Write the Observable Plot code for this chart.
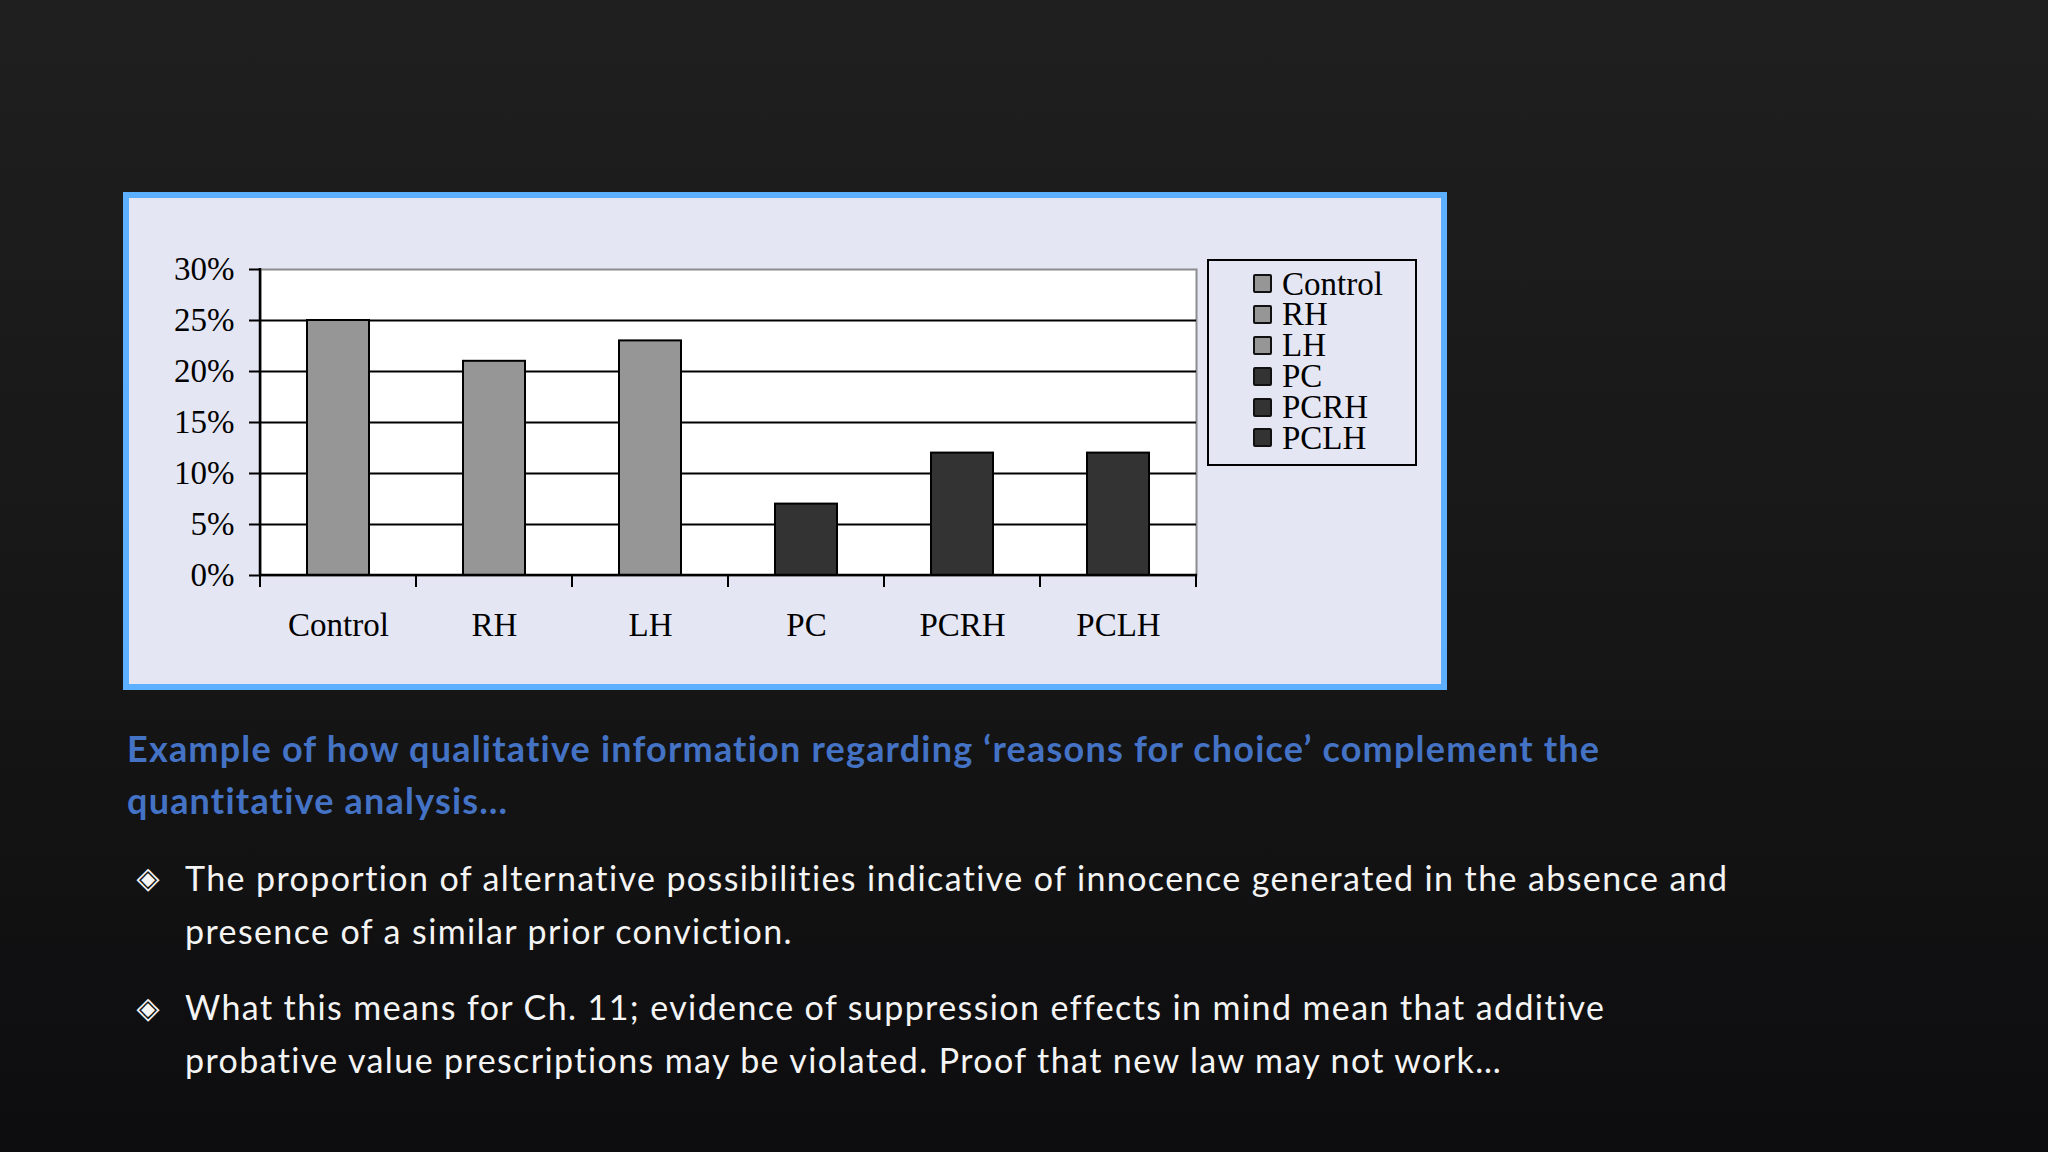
<!DOCTYPE html>
<html>
<head>
<meta charset="utf-8">
<script src="https://cdn.jsdelivr.net/npm/d3@7"></script>
<script src="https://cdn.jsdelivr.net/npm/@observablehq/plot@0.6"></script>
<style>
  html, body { margin: 0; padding: 0; }
  body {
    width: 2048px; height: 1152px; overflow: hidden; position: relative;
    background: linear-gradient(180deg, #1f1f1f 0%, #181818 45%, #0d0d0f 100%);
  }
  #panel {
    position: absolute; left: 123px; top: 192px; width: 1324px; height: 498px;
    box-sizing: border-box; border: 6px solid #5cb0ff; background: #e4e6f4;
  }
  #chart { position: absolute; left: 0; top: 0; }
  #legend {
    position: absolute; left: 1078px; top: 61px; width: 210px; height: 207px;
    box-sizing: border-box; border: 2px solid #000; padding: 7.6px 0 0 44px;
    font-family: "Liberation Serif", serif; font-size: 33px; color: #000;
  }
  .row { display: flex; align-items: center; height: 30.8px; white-space: nowrap; }
  .row .lbl { display: inline-block; height: 30.8px; line-height: 30.8px; overflow: visible; }
  .sw { width: 15px; height: 15px; border: 2px solid #111; border-radius: 2px; margin-right: 10px; flex: none; }
  .title {
    position: absolute; left: 127px; top: 722px; font-family: Lato, sans-serif; font-weight: 700;
    font-size: 36px; line-height: 52px; color: #4472c4; white-space: nowrap; letter-spacing: 1.2px;
  }
  .bullet {
    position: absolute; left: 185px; font-family: Lato, sans-serif; font-weight: 400;
    font-size: 34px; line-height: 53px; color: #f4f4f4; white-space: nowrap; letter-spacing: 1.4px;
  }
  .mark {
    position: absolute; left: 133px; width: 30px; height: 30px; line-height: 30px; text-align: center;
    font-family: "DejaVu Sans", sans-serif; font-size: 30px; color: #f4f4f4;
  }
</style>
</head>
<body>
<div id="panel">
  <div id="chart"></div>
  <div id="legend"></div>
</div>
<div class="title" id="title"></div>
<div class="mark" style="top:863px">◈</div>
<div class="bullet" id="b1" style="top:851px"></div>
<div class="mark" style="top:993px">◈</div>
<div class="bullet" id="b2" style="top:980px"></div>
<script>
const categories = ["Control", "RH", "LH", "PC", "PCRH", "PCLH"];
const values = [25, 21, 23, 7, 12, 12];
const barColors = ["#969696", "#969696", "#969696", "#333333", "#333333", "#333333"];
const yTicks = [0, 5, 10, 15, 20, 25, 30];
const gridTicks = [5, 10, 15, 20, 25];
const titleLines = [
  "Example of how qualitative information regarding \u2018reasons for choice\u2019 complement the",
  "quantitative analysis\u2026"
];
const bullet1Lines = [
  "The proportion of alternative possibilities indicative of innocence generated in the absence and",
  "presence of a similar prior conviction."
];
const bullet2Lines = [
  "What this means for Ch. 11; evidence of suppression effects in mind mean that additive",
  "probative value prescriptions may be violated. Proof that new law may not work\u2026"
];

const data = categories.map((c, i) => ({cat: c, value: values[i]}));
const ns = "http://www.w3.org/2000/svg";

function frameLines(index, scales, vals, dims) {
  const {width, height, marginLeft, marginRight, marginTop, marginBottom} = dims;
  const g = document.createElementNS(ns, "g");
  const left = marginLeft, right = width - marginRight, bottom = height - marginBottom, top = marginTop;
  const add = (x1, y1, x2, y2, w) => {
    const l = document.createElementNS(ns, "line");
    l.setAttribute("x1", x1); l.setAttribute("y1", y1);
    l.setAttribute("x2", x2); l.setAttribute("y2", y2);
    l.setAttribute("stroke", "#000"); l.setAttribute("stroke-width", w);
    g.appendChild(l);
  };
  add(left, top - 1, left, bottom + 1, 2.5);
  add(left - 1, bottom, right + 1, bottom, 2.5);
  const n = categories.length;
  for (let k = 0; k <= n; ++k) {
    const x = left + k * (right - left) / n;
    add(x, bottom, x, bottom + 12, 2);
  }
  return g;
}

const chart = Plot.plot({
  width: 1312,
  height: 486,
  marginLeft: 131,
  marginRight: 245,
  marginTop: 71,
  marginBottom: 109,
  style: {background: "transparent", fontFamily: "Liberation Serif, serif", fontSize: "33px", color: "#000", overflow: "visible"},
  x: {domain: categories, paddingInner: 0.6, paddingOuter: 0.3, label: null},
  y: {domain: [0, 30], label: null},
  color: {domain: categories, range: barColors},
  marks: [
    Plot.frame({fill: "white", stroke: "#8c8c8c", strokeWidth: 2}),
    Plot.ruleY(gridTicks, {stroke: "#000", strokeWidth: 2}),
    Plot.barY(data, {x: "cat", y: "value", fill: "cat", stroke: "#000", strokeWidth: 2}),
    Plot.axisY({ticks: yTicks, tickFormat: d => d + "%", tickSize: 11, tickPadding: 15, strokeWidth: 2, fontSize: 33, label: null}),
    Plot.axisX({tickSize: 0, tickPadding: 37, fontSize: 33, label: null}),
    frameLines
  ]
});
document.getElementById("chart").appendChild(chart);

const legend = document.getElementById("legend");
categories.forEach((c, i) => {
  const row = document.createElement("div");
  row.className = "row";
  const sw = document.createElement("span");
  sw.className = "sw";
  sw.style.background = barColors[i];
  const t = document.createElement("span");
  t.className = "lbl";
  t.textContent = c;
  row.appendChild(sw); row.appendChild(t);
  legend.appendChild(row);
});

function fill(id, lines) {
  const el = document.getElementById(id);
  lines.forEach((s, i) => {
    if (i) el.appendChild(document.createElement("br"));
    el.appendChild(document.createTextNode(s));
  });
}
fill("title", titleLines);
fill("b1", bullet1Lines);
fill("b2", bullet2Lines);
</script>
</body>
</html>
